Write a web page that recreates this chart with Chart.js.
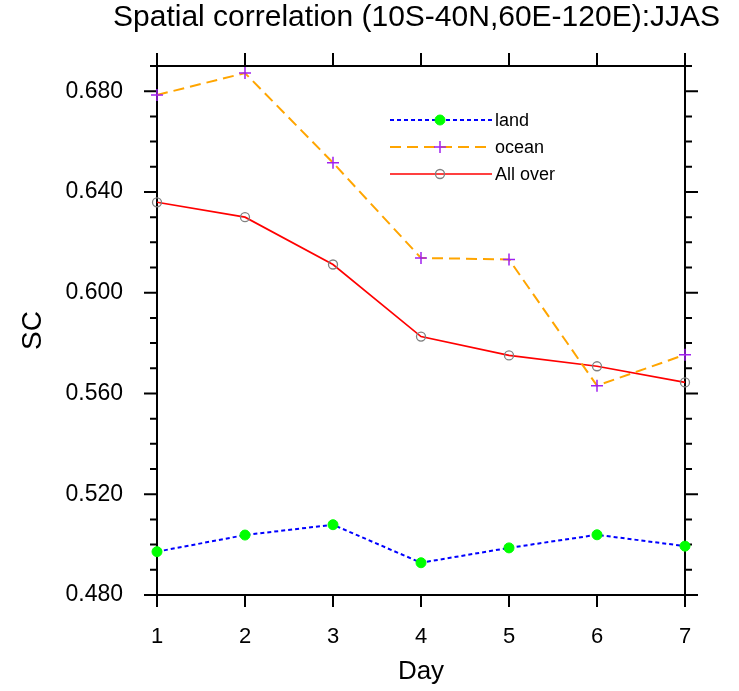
<!DOCTYPE html>
<html>
<head>
<meta charset="utf-8">
<script src="https://cdn.jsdelivr.net/npm/chart.js@4"></script>
<style>
  body { margin: 0; background: #fff; }
  #sc-canvas { display: block; }
</style>
</head>
<body>
<canvas id="sc-canvas" width="739" height="691"></canvas>
<script>
// data
const days = ['1', '2', '3', '4', '5', '6', '7']
const land = [0.4972, 0.5038, 0.5079, 0.4928, 0.4987, 0.5039, 0.4994]
const ocean = [0.6785, 0.6872, 0.6516, 0.6138, 0.6132, 0.5631, 0.5754]
const allOver = [0.6359, 0.63, 0.6112, 0.5826, 0.5751, 0.5708, 0.5644]
const yMin = 0.48
const yMax = 0.69

const FONT = "'Liberation Sans', Arial, Helvetica, sans-serif"

// frame + outward ticks (major / minor), ncl style
const frameTicks = {
  id: 'frameTicks',
  beforeDatasetsDraw(chart) {
    const { ctx, chartArea: a, scales } = chart
    ctx.save()
    ctx.strokeStyle = '#000'
    ctx.lineWidth = 2
    ctx.strokeRect(a.left, a.top, a.right - a.left, a.bottom - a.top)
    ctx.beginPath()
    days.forEach((d, i) => {
      const x = scales.x.getPixelForTick(i)
      ctx.moveTo(x, a.bottom)
      ctx.lineTo(x, a.bottom + 12)
      ctx.moveTo(x, a.top)
      ctx.lineTo(x, a.top - 13)
    })
    for (let k = 48; k <= 69; k++) {
      const y = scales.y.getPixelForValue(k / 100)
      const len = (k - 48) % 4 === 0 ? 13 : 7
      ctx.moveTo(a.left, y)
      ctx.lineTo(a.left - len, y)
      ctx.moveTo(a.right, y)
      ctx.lineTo(a.right + len, y)
    }
    ctx.stroke()
    ctx.restore()
  },
}

// legend inside the plot
const innerLegend = {
  id: 'innerLegend',
  afterDatasetsDraw(chart) {
    const { ctx } = chart
    const rows = [120, 147, 174]
    ctx.save()
    chart.data.datasets.forEach((ds, i) => {
      const y = rows[i]
      ctx.beginPath()
      ctx.strokeStyle = ds.borderColor
      ctx.lineWidth = ds.borderWidth
      ctx.setLineDash(ds.borderDash || [])
      ctx.moveTo(390, y)
      ctx.lineTo(492, y)
      ctx.stroke()
      ctx.setLineDash([])
      ctx.fillStyle = ds.pointBackgroundColor
      ctx.strokeStyle = ds.pointBorderColor
      ctx.lineWidth = ds.pointBorderWidth
      Chart.helpers.drawPoint(ctx, { pointStyle: ds.pointStyle, radius: ds.pointRadius, borderWidth: ds.pointBorderWidth }, 440, y)
      ctx.fillStyle = '#000'
      ctx.font = '18px ' + FONT
      ctx.textBaseline = 'middle'
      ctx.textAlign = 'left'
      ctx.fillText(ds.label, 495, y + 1)
    })
    ctx.restore()
  },
}

const scChart = new Chart(document.getElementById('sc-canvas'), {
  type: 'line',
  data: {
    labels: days,
    datasets: [
      {
        label: 'land',
        data: land,
        borderColor: '#0000ff',
        borderWidth: 2,
        borderDash: [4, 3],
        pointStyle: 'circle',
        pointRadius: 5,
        pointBackgroundColor: '#00ff00',
        pointBorderColor: '#00ff00',
        pointBorderWidth: 1,
        clip: false,
      },
      {
        label: 'ocean',
        data: ocean,
        borderColor: '#ffa500',
        borderWidth: 2,
        borderDash: [11, 6],
        pointStyle: 'cross',
        pointRadius: 6,
        pointBackgroundColor: '#a020f0',
        pointBorderColor: '#a020f0',
        pointBorderWidth: 1.5,
        clip: false,
      },
      {
        label: 'All over',
        data: allOver,
        borderColor: '#ff0000',
        borderWidth: 1.7,
        pointStyle: 'circle',
        pointRadius: 4.5,
        pointBackgroundColor: 'rgba(0,0,0,0)',
        pointBorderColor: '#808080',
        pointBorderWidth: 1.3,
        clip: false,
      },
    ],
  },
  options: {
    responsive: false,
    animation: false,
    devicePixelRatio: 1,
    tension: 0,
    layout: { padding: { top: 0, right: 19, bottom: 4, left: 10 } },
    plugins: {
      legend: { display: false },
      tooltip: { enabled: false },
      title: {
        display: true,
        text: 'Spatial correlation (10S-40N,60E-120E):JJAS',
        align: 'end',
        color: '#000',
        font: { family: FONT, size: 30, weight: 'normal' },
        padding: { top: 0, bottom: 30 },
      },
    },
    scales: {
      x: {
        type: 'category',
        offset: false,
        grid: { display: false, drawTicks: false },
        border: { display: false },
        ticks: { color: '#000', font: { family: FONT, size: 22 }, padding: 29, maxRotation: 0 },
        title: { display: true, text: 'Day', color: '#000', font: { family: FONT, size: 26 }, padding: { top: 0, bottom: 0 } },
        afterFit(scale) { scale.height = 92 },
      },
      y: {
        min: yMin,
        max: yMax,
        grid: { display: false, drawTicks: false },
        border: { display: false },
        ticks: {
          stepSize: 0.04,
          includeBounds: false,
          color: '#000',
          font: { family: FONT, size: 23 },
          padding: 34,
          callback: (v) => v.toFixed(3),
        },
        title: { display: true, text: 'SC', color: '#000', font: { family: FONT, size: 28 }, padding: { top: 6, bottom: 0 } },
        afterFit(scale) { scale.width = 147 },
      },
      // empty right-hand axis, only keeps room for the right tick marks
      y2: {
        position: 'right',
        min: yMin,
        max: yMax,
        grid: { display: false, drawTicks: false },
        border: { display: false },
        ticks: { display: false },
        afterFit(scale) { scale.width = 35 },
      },
    },
  },
  plugins: [frameTicks, innerLegend],
})
</script>
</body>
</html>
